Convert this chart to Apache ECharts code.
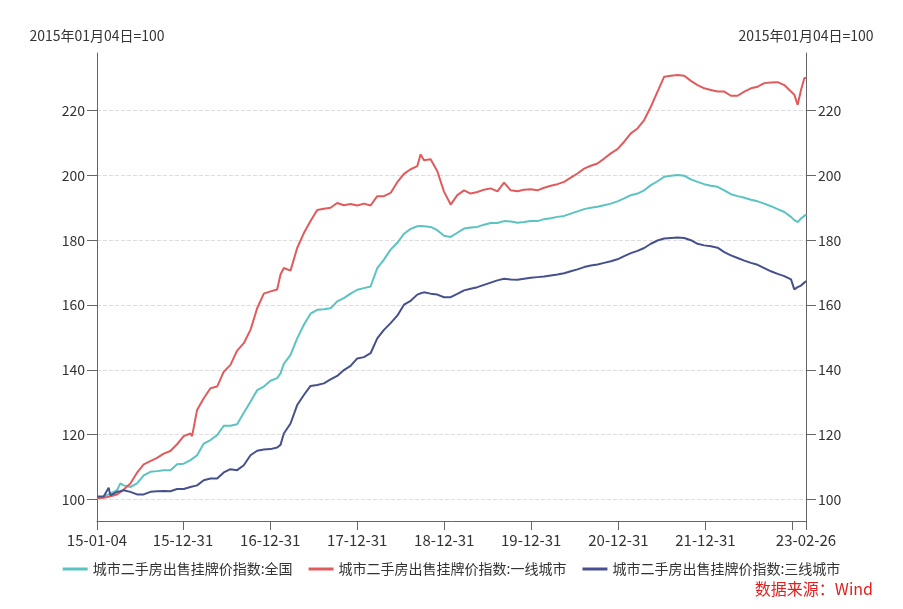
<!DOCTYPE html>
<html>
<head>
<meta charset="utf-8">
<script src="https://cdn.jsdelivr.net/npm/echarts@6/dist/echarts.min.js"></script>
<style>html,body{margin:0;padding:0;background:#fff}#c{width:903px;height:609px}</style>
</head>
<body>
<div id="c"></div>
<script>
// week offsets from 2015-01-04
const weeks = [0,4,7,8,12,14,16,
20,24,28,32,36,40,44,48,52,
56,57,
60,64,68,72,76,80,84,88,92,96,100,104,108,
110,
112,116,120,124,128,132,136,140,144,148,152,156,160,164,168,172,176,180,184,188,192,
194,
196,200,204,208,212,216,220,224,228,232,236,240,244,248,252,256,260,264,268,272,276,280,284,288,292,296,300,304,308,312,316,320,324,328,332,336,340,344,348,352,356,360,364,368,372,376,380,384,388,392,396,400,404,408,412,416,
418,420,422,424,425];

const national = [100.2,100.9,101.5,101.8,102.8,104.9,104.3,
103.8,104.9,107.4,108.5,108.7,109.0,109.0,110.8,111.0,
112.1,112.5,
113.6,117.2,118.3,119.8,122.7,122.7,123.2,126.7,130.1,133.7,134.8,136.6,137.4,
138.9,
141.8,144.6,149.7,153.9,157.3,158.5,158.7,159.0,161.1,162.1,163.5,164.7,165.2,165.7,171.4,174.0,177.1,179.2,182.0,183.5,184.3,
184.4,
184.3,184.1,183.1,181.4,181.0,182.3,183.6,183.9,184.1,184.8,185.3,185.3,185.9,185.8,185.4,185.6,185.9,185.9,186.5,186.8,187.2,187.5,188.2,188.9,189.6,190.0,190.3,190.8,191.3,192.0,192.9,193.9,194.4,195.4,197.0,198.2,199.6,199.9,200.1,199.9,198.8,198.0,197.3,196.8,196.5,195.4,194.2,193.6,193.1,192.5,192.0,191.3,190.5,189.6,188.7,187.2,
186.2,185.6,186.7,187.5,187.9];

const tier1 = [100.3,100.5,100.8,100.9,101.5,102.2,103.0,
104.9,108.2,110.8,111.8,112.8,114.1,114.9,117.0,119.5,
120.3,119.5,
127.6,131.2,134.3,134.8,139.4,141.5,145.9,148.2,152.3,159.0,163.5,164.2,164.8,
169.4,
171.4,170.6,177.6,182.2,185.9,189.3,189.7,190.0,191.5,190.8,191.2,190.7,191.3,190.7,193.6,193.6,194.6,197.9,200.5,201.9,202.9,
206.5,
204.7,205.0,201.3,195.0,191.0,193.9,195.4,194.4,194.9,195.6,196.0,195.1,197.8,195.4,195.1,195.6,195.7,195.4,196.2,196.8,197.3,198.0,199.3,200.6,202.1,203.0,203.7,205.2,206.8,208.1,210.4,213.0,214.5,217.1,221.2,225.9,230.5,230.8,231.0,230.8,229.2,227.9,226.9,226.4,225.9,225.9,224.6,224.6,225.9,226.9,227.4,228.5,228.7,228.8,227.9,225.9,
224.9,221.8,226.4,230.0,230.2];

const tier3 = [100.9,100.9,103.6,101.2,102.3,102.5,102.8,
102.3,101.5,101.5,102.3,102.5,102.6,102.5,103.2,103.2,
103.8,103.9,
104.3,105.9,106.4,106.4,108.3,109.3,109.0,110.5,113.6,115.0,115.4,115.5,116.0,
116.8,
120.3,123.4,129.1,132.2,135.0,135.3,135.8,137.0,138.1,139.9,141.2,143.5,143.9,145.1,149.7,152.3,154.4,156.7,160.1,161.3,163.2,
163.6,
163.9,163.5,163.2,162.4,162.4,163.4,164.5,165.0,165.5,166.2,166.9,167.6,168.1,167.9,167.8,168.1,168.4,168.6,168.8,169.1,169.4,169.8,170.4,171.0,171.7,172.2,172.5,173.0,173.5,174.1,175.1,176.0,176.7,177.6,178.9,179.9,180.5,180.7,180.8,180.7,180.0,178.9,178.4,178.1,177.7,176.3,175.3,174.5,173.7,173.0,172.4,171.4,170.4,169.6,168.9,167.9,
164.8,165.5,166.0,166.9,167.4];

const seriesNames = ['城市二手房出售挂牌价指数:全国','城市二手房出售挂牌价指数:一线城市','城市二手房出售挂牌价指数:三线城市'];
const tickDates = ['2015-01-04','2015-12-31','2016-12-31','2017-12-31','2018-12-31','2019-12-31','2020-12-31','2021-12-31','2022-12-31','2023-02-26'];
const labelDates = ['2015-01-04','2015-12-31','2016-12-31','2017-12-31','2018-12-31','2019-12-31','2020-12-31','2021-12-31','2023-02-26'];
const yTicks = [100,120,140,160,180,200,220];
const yName = '2015年01月04日=100';
const sourceText = '数据来源：Wind';

const DAY = 86400000;
const base = Date.UTC(2015,0,4);
// x positions are day offsets from 2015-01-04
const xDays = weeks.map(w => w*7);
const toDay = s => Math.round((Date.parse(s + 'T00:00:00Z') - base) / DAY);
function fmt(dayOff){
  const d = new Date(base + Math.round(dayOff)*DAY);
  const p = n => String(n).padStart(2,'0');
  return String(d.getUTCFullYear()).slice(2) + '-' + p(d.getUTCMonth()+1) + '-' + p(d.getUTCDate());
}
const pair = arr => arr.map((v,i) => [xDays[i], v]);

const FONT = '"Noto Sans CJK SC","Noto Sans",sans-serif';
const axisCol = '#666';
const yAxisCommon = {
  type: 'value', min: 93.3, max: 237.8,
  name: yName, nameLocation: 'end', nameGap: 10,
  nameTextStyle: {color:'#333', fontSize:14, fontFamily:FONT},
  axisLine: {show:true, lineStyle:{color:axisCol}},
  axisTick: {show:true, length:10, customValues: yTicks, lineStyle:{color:axisCol}},
  axisLabel: {color:'#333', fontSize:14, fontFamily:FONT, margin:12, customValues: yTicks}
};

const chart = echarts.init(document.getElementById('c'), null, {renderer:'canvas'});
chart.setOption({
  animation: false,
  color: ['#5bc3c1','#e05b5c','#46508c'],
  grid: {left:97, right:97, top:53, bottom:88, containLabel:false},
  legend: {
    bottom: 28, left: 'center', icon: 'rect', itemWidth: 25, itemHeight: 3, itemGap: 16,
    textStyle: {color:'#333', fontSize:14, fontFamily:FONT},
    data: seriesNames
  },
  graphic: [{
    type: 'text', right: 30, top: 581,
    style: {text: sourceText, fill: '#e0201e', font: '16px ' + FONT}
  }],
  xAxis: {
    type: 'value', min: 0, max: toDay('2023-02-26'),
    axisLine: {lineStyle:{color:axisCol}},
    axisTick: {show:true, length:9, customValues: tickDates.map(toDay), lineStyle:{color:axisCol}},
    axisLabel: {color:'#333', fontSize:15, fontFamily:FONT, margin:12,
      customValues: labelDates.map(toDay), formatter: v => fmt(v)},
    splitLine: {show:false}
  },
  yAxis: [
    Object.assign({}, yAxisCommon, {position:'left',
      splitLine:{show:true, lineStyle:{color:'#ddd', type:'dashed'}}}),
    Object.assign({}, yAxisCommon, {position:'right', splitLine:{show:false}})
  ],
  series: [
    {name: seriesNames[0], type:'line', symbol:'none', data: pair(national), lineStyle:{width:2}},
    {name: seriesNames[1], type:'line', symbol:'none', data: pair(tier1), lineStyle:{width:2}},
    {name: seriesNames[2], type:'line', symbol:'none', data: pair(tier3), lineStyle:{width:2}}
  ]
});
</script>
</body>
</html>
